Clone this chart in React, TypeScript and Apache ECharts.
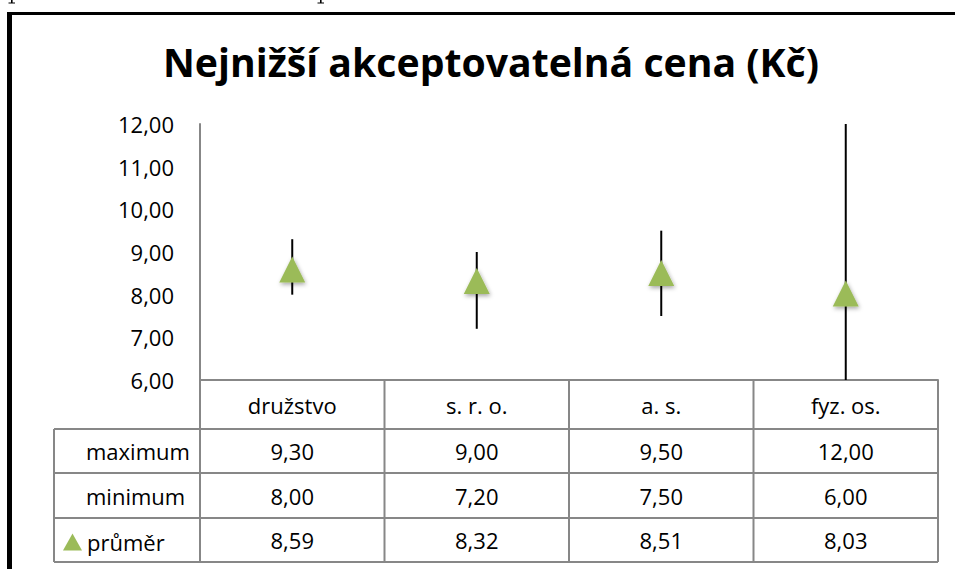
import React, { useEffect, useRef } from "react";
import * as echarts from "echarts";

const categories = ["družstvo", "s. r. o.", "a. s.", "fyz. os."];
const maxValues = [9.3, 9.0, 9.5, 12.0];
const minValues = [8.0, 7.2, 7.5, 6.0];
const avgValues = [8.59, 8.32, 8.51, 8.03];
const rowLabels = ["maximum", "minimum", "průměr"];
const yTicks = { min: 6, max: 12, interval: 1 };

const W = 955;
const H = 569;
const GRID_LEFT = 200;
const GRID_RIGHT_X = 938;
const GRID_TOP = 124;
const GRID_BOTTOM_Y = 380;
const TABLE_LEFT = 54;
const ROW_Y = [380, 429, 473, 518, 562];
const FONT = "'Open Sans', 'Noto Sans', sans-serif";
const GRAY = "#878787";
const GREEN = "#9BBB59";

const fmt = (v: number) => v.toFixed(2).replace(".", ",");

export default function App() {
  const ref = useRef<HTMLDivElement>(null);
  useEffect(() => {
    if (!ref.current) return;
    const chart = echarts.init(ref.current, undefined, { renderer: "svg" });
    const colW = (GRID_RIGHT_X - GRID_LEFT) / categories.length;
    const graphics: any[] = [];
    // descender fragments of the document text above the chart
    [11, 320].forEach((x) => {
      graphics.push({ type: "rect", shape: { x: x, y: 0, width: 1.6, height: 3 }, style: { fill: "#000" } });
      graphics.push({ type: "rect", shape: { x: x - 2.5, y: 2.5, width: 6.5, height: 1 }, style: { fill: "#000" } });
    });
    // border of the embedded chart
    graphics.push({ type: "rect", shape: { x: 7, y: 12, width: 5, height: 600 }, style: { fill: "#000" } });
    graphics.push({ type: "rect", shape: { x: 7, y: 12, width: 960, height: 3 }, style: { fill: "#000" } });
    // table horizontal lines
    for (let r = 1; r < ROW_Y.length; r++) {
      graphics.push({
        type: "line",
        shape: { x1: TABLE_LEFT, y1: ROW_Y[r], x2: GRID_RIGHT_X, y2: ROW_Y[r] },
        style: { stroke: GRAY, lineWidth: 2 },
      });
    }
    // table vertical lines
    graphics.push({
      type: "line",
      shape: { x1: TABLE_LEFT, y1: ROW_Y[1], x2: TABLE_LEFT, y2: ROW_Y[4] },
      style: { stroke: GRAY, lineWidth: 2 },
    });
    for (let c = 0; c <= categories.length; c++) {
      const x = GRID_LEFT + c * colW;
      graphics.push({
        type: "line",
        shape: { x1: x, y1: ROW_Y[0], x2: x, y2: ROW_Y[4] },
        style: { stroke: GRAY, lineWidth: 2 },
      });
    }
    // row labels (maximum, minimum)
    rowLabels.slice(0, 2).forEach((t, i) => {
      graphics.push({
        type: "text",
        x: 86,
        y: (ROW_Y[i + 1] + ROW_Y[i + 2]) / 2,
        style: { text: t, font: `22px ${FONT}`, fill: "#000", verticalAlign: "middle", align: "left" },
      });
    });

    const rows = [maxValues, minValues, avgValues];
    chart.setOption({
      animation: false,
      textStyle: { fontFamily: FONT },
      title: {
        text: "Nejnižší akceptovatelná cena (Kč)",
        left: 486,
        top: 37,
        textAlign: "center",
        textStyle: { fontFamily: FONT, fontSize: 39.2, fontWeight: "bold", color: "#000" },
      },
      legend: {
        data: [rowLabels[2]],
        left: 58,
        top: (ROW_Y[3] + ROW_Y[4]) / 2 - 14,
        icon: "triangle",
        itemWidth: 19,
        itemHeight: 17,
        itemGap: 0,
        textStyle: { fontFamily: FONT, fontSize: 22, color: "#000", padding: [0, 0, 0, 0] },
      },
      grid: { left: GRID_LEFT, right: W - GRID_RIGHT_X, top: GRID_TOP, bottom: H - GRID_BOTTOM_Y },
      xAxis: {
        type: "category",
        data: categories,
        axisLine: { show: true, lineStyle: { color: GRAY, width: 2 } },
        axisTick: { show: false },
        axisLabel: {
          margin: 0,
          interval: 0,
          formatter: (v: string, idx: number) =>
            `{h|${v}}\n{a|${fmt(rows[0][idx])}}\n{b|${fmt(rows[1][idx])}}\n{c|${fmt(rows[2][idx])}}`,
          rich: {
            h: { fontSize: 22, lineHeight: ROW_Y[1] - ROW_Y[0], color: "#000", fontFamily: FONT },
            a: { fontSize: 22, lineHeight: ROW_Y[2] - ROW_Y[1], color: "#000", fontFamily: FONT },
            b: { fontSize: 22, lineHeight: ROW_Y[3] - ROW_Y[2], color: "#000", fontFamily: FONT },
            c: { fontSize: 22, lineHeight: ROW_Y[4] - ROW_Y[3], color: "#000", fontFamily: FONT },
          },
        },
        splitLine: { show: false },
      },
      yAxis: {
        type: "value",
        min: yTicks.min,
        max: yTicks.max,
        interval: yTicks.interval,
        axisLine: { show: true, lineStyle: { color: GRAY, width: 2 } },
        axisTick: { show: false },
        splitLine: { show: false },
        axisLabel: { fontSize: 22, color: "#000", margin: 26, fontFamily: FONT, formatter: (v: number) => fmt(v) },
      },
      graphic: graphics,
      series: [
        {
          type: "custom",
          name: "rozpětí",
          data: categories.map((_, i) => [i, minValues[i], maxValues[i]]),
          encode: { x: 0, y: [1, 2] },
          renderItem: (params: any, api: any) => {
            const p1 = api.coord([api.value(0), api.value(1)]);
            const p2 = api.coord([api.value(0), api.value(2)]);
            return {
              type: "line",
              shape: { x1: p1[0], y1: p1[1], x2: p2[0], y2: p2[1] },
              style: { stroke: "#000", lineWidth: 2 },
            };
          },
          z: 1,
        },
        {
          type: "scatter",
          name: rowLabels[2],
          data: avgValues,
          symbol: "triangle",
          symbolSize: [26, 26],
          itemStyle: {
            color: GREEN,
            opacity: 1,
            shadowBlur: 4,
            shadowOffsetX: 1,
            shadowOffsetY: 2,
            shadowColor: "rgba(0,0,0,0.35)",
          },
          z: 3,
        },
      ],
    });
    return () => chart.dispose();
  }, []);

  return (
    <div style={{ position: "fixed", left: 0, top: 0, width: W, height: H, background: "#fff", overflow: "hidden" }}>
      <div ref={ref} style={{ position: "absolute", left: 0, top: 0, width: W, height: H }} />
    </div>
  );
}
